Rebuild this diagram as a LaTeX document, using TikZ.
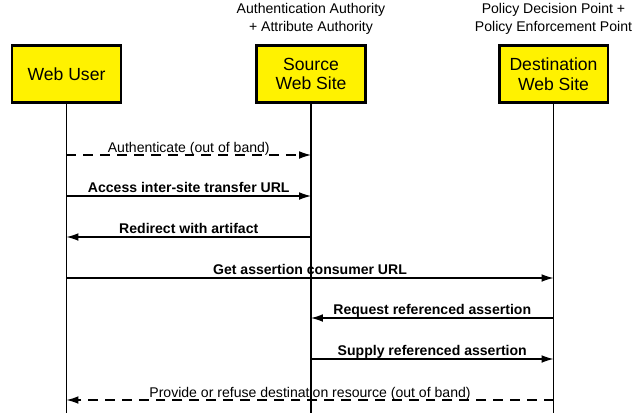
\documentclass[tikz,border=0pt]{standalone}
\usepackage{fontspec}
\setmainfont{Liberation Sans}
\usetikzlibrary{arrows.meta, positioning}

\begin{document}
\begin{tikzpicture}[x=0.025cm, y=-0.025cm,
		actor/.style={draw, line width=2pt, fill=yellow, minimum width=2.72cm, minimum height=1.42cm, align=center, font=\fontsize{12.5}{14}\selectfont},
		role/.style={align=center, font=\fontsize{10}{12.8}\selectfont},
		lifeline/.style={line width=1.4pt},
		msg/.style={-{Latex[length=8.5pt, width=5.5pt]}, line width=0.85pt},
		oob/.style={msg, dash pattern=on 7pt off 5pt},
		lbl/.style={midway, anchor=base, yshift=2.5pt, font=\bfseries\fontsize{10}{12}\selectfont},
		oobl/.style={midway, anchor=base, yshift=1.5pt, font=\fontsize{10}{12}\selectfont}
		]
		
		\useasboundingbox (0,0) rectangle (635,417);
		
		% Parties
		\node[actor] (user) at (66.5, 74) {Web User};
		\node[actor] (source) at (311, 74) {Source\\Web Site};
		\node[actor] (dest) at (553.5, 74) {Destination\\Web Site};
		
		% Roles
		\node[role] (srcrole) at (311, 19) {Authentication Authority\\+ Attribute Authority};
		\node[role] (destrole) at (553.5, 19) {Policy Decision Point +\\Policy Enforcement Point};
		
		% Lifelines
		\coordinate (bottom) at (0, 413);
		\draw[lifeline] (user) -- (bottom -| user);
		\draw[lifeline] (source) -- (bottom -| source);
		\draw[lifeline] (dest) -- (bottom -| dest);
		
		% Message rows
		\coordinate (r1) at (0, 155);
		\coordinate (r2) at (0, 196);
		\coordinate (r3) at (0, 237);
		\coordinate (r4) at (0, 278);
		\coordinate (r5) at (0, 318);
		\coordinate (r6) at (0, 359);
		\coordinate (r7) at (0, 400);
		
		% Messages
		\draw[oob] (r1 -| user) -- (r1 -| source) node[oobl] {Authenticate (out of band)};
		\draw[msg] (r2 -| user) -- (r2 -| source) node[lbl] {Access inter-site transfer URL};
		\draw[msg] (r3 -| source) -- (r3 -| user) node[lbl] {Redirect with artifact};
		\draw[msg] (r4 -| user) -- (r4 -| dest) node[lbl] {Get assertion consumer URL};
		\draw[msg] (r5 -| dest) -- (r5 -| source) node[lbl] {Request referenced assertion};
		\draw[msg] (r6 -| source) -- (r6 -| dest) node[lbl] {Supply referenced assertion};
		\draw[oob] (r7 -| dest) -- (r7 -| user) node[oobl] {Provide or refuse destination resource (out of band)};
		
	\end{tikzpicture}
\end{document}
